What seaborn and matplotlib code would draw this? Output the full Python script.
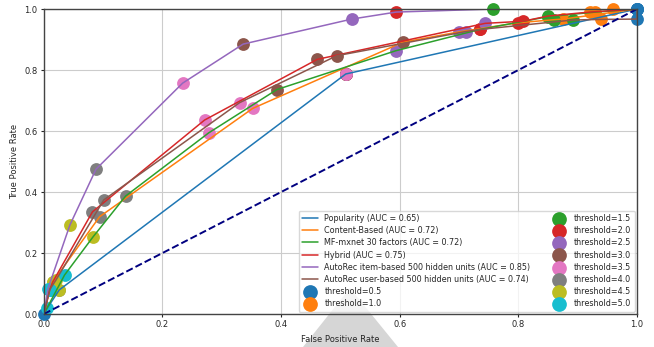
import matplotlib
matplotlib.use('Agg')
import matplotlib.pyplot as plt
import seaborn as sns
from matplotlib.patches import Polygon

# thresholds used for the markers (tab10 colour per threshold)
thresholds = [0.5, 1.0, 1.5, 2.0, 2.5, 3.0, 3.5, 4.0, 4.5, 5.0]

model_names = [
    'Popularity (AUC = 0.65)',
    'Content-Based (AUC = 0.72)',
    'MF-mxnet 30 factors (AUC = 0.72)',
    'Hybrid (AUC = 0.75)',
    'AutoRec item-based 500 hidden units (AUC = 0.85)',
    'AutoRec user-based 500 hidden units (AUC = 0.74)',
]

# FPR / TPR per model, one value per threshold (0.5 ... 5.0)
popularity_fpr = [0.0, 0.509, 0.509, 0.509, 0.509, 0.509, 0.509, 0.026, 0.026, 0.006]
popularity_tpr = [0.0, 0.787, 0.787, 0.787, 0.787, 0.787, 0.787, 0.079, 0.079, 0.020]

content_fpr = [1.0, 0.875, 0.860, 0.800, 0.700, 0.605, 0.352, 0.094, 0.015, 0.010]
content_tpr = [1.0, 0.967, 0.965, 0.955, 0.925, 0.891, 0.674, 0.319, 0.105, 0.080]

mf_fpr = [1.0, 0.930, 0.850, 0.735, 0.593, 0.393, 0.278, 0.138, 0.083, 0.035]
mf_tpr = [1.0, 0.990, 0.975, 0.933, 0.863, 0.736, 0.594, 0.387, 0.253, 0.128]

hybrid_fpr = [1.0, 0.920, 0.850, 0.808, 0.744, 0.461, 0.271, 0.082, 0.015, 0.010]
hybrid_tpr = [1.0, 0.990, 0.977, 0.960, 0.953, 0.835, 0.636, 0.335, 0.105, 0.080]

item_fpr = [1.0, 0.960, 0.757, 0.594, 0.519, 0.336, 0.234, 0.088, 0.044, 0.007]
item_tpr = [1.0, 1.000, 1.000, 0.990, 0.967, 0.885, 0.757, 0.475, 0.292, 0.083]

user_fpr = [1.0, 0.940, 0.892, 0.735, 0.711, 0.494, 0.330, 0.101, 0.020, 0.010]
user_tpr = [0.967, 0.966, 0.964, 0.933, 0.926, 0.847, 0.693, 0.374, 0.110, 0.080]

all_fpr = [popularity_fpr, content_fpr, mf_fpr, hybrid_fpr, item_fpr, user_fpr]
all_tpr = [popularity_tpr, content_tpr, mf_tpr, hybrid_tpr, item_tpr, user_tpr]

sns.set_style('whitegrid')
plt.rcParams['font.family'] = ['DejaVu Sans']
palette = sns.color_palette('tab10')

fig, ax = plt.subplots(figsize=(6.54, 3.47), dpi=100)
fig.subplots_adjust(left=0.067, right=0.974, top=0.974, bottom=0.095)
fig.patch.set_facecolor('white')
ax.patch.set_alpha(0.0)

# ROC curves
for i, name in enumerate(model_names):
    pts = sorted(zip(all_fpr[i], all_tpr[i]))
    xs = [0.0] + [p[0] for p in pts] + [1.0]
    ys = [0.0] + [p[1] for p in pts] + [1.0]
    sns.lineplot(x=xs, y=ys, sort=False, estimator=None, color=palette[i],
                 linewidth=1.1, label=name, ax=ax)

# threshold markers
for j, t in enumerate(thresholds):
    sns.scatterplot(x=[f[j] for f in all_fpr], y=[tp[j] for tp in all_tpr],
                    color=palette[j], s=85, linewidth=0, clip_on=False,
                    label='threshold=%s' % t, ax=ax)

ax.plot([0, 1], [0, 1], color='navy', linestyle='--', linewidth=1.4)

ax.set_xlim(0, 1)
ax.set_ylim(0, 1)
ax.set_xticks([0, 0.2, 0.4, 0.6, 0.8, 1.0])
ax.set_yticks([0, 0.2, 0.4, 0.6, 0.8, 1.0])
ax.tick_params(labelsize=6, length=2.5, pad=2, left=True, bottom=True)
ax.set_xlabel('False Positive Rate', fontsize=6, labelpad=4)
ax.set_ylabel('True Positive Rate', fontsize=6, labelpad=4)
ax.grid(color='#cccccc', linewidth=0.8)
for sp in ax.spines.values():
    sp.set_color('#444444')
    sp.set_linewidth(1.0)

ax.legend(loc='lower right', ncol=2, fontsize=5.8, frameon=True,
          edgecolor='#cccccc', framealpha=0.75, borderaxespad=0.3,
          columnspacing=2.6, handletextpad=0.8, labelspacing=0.4,
          markerscale=1.15)

# light grey triangle lying behind the plot at the bottom of the picture
tri = Polygon([(350 / 654, 1 - 288 / 347), (303 / 654, 0.0), (398 / 654, 0.0)],
              closed=True, transform=fig.transFigure, facecolor='#d6d6d6',
              edgecolor='none', zorder=-1)
fig.add_artist(tri)

fig.savefig('out.png', dpi=100, facecolor='white')
